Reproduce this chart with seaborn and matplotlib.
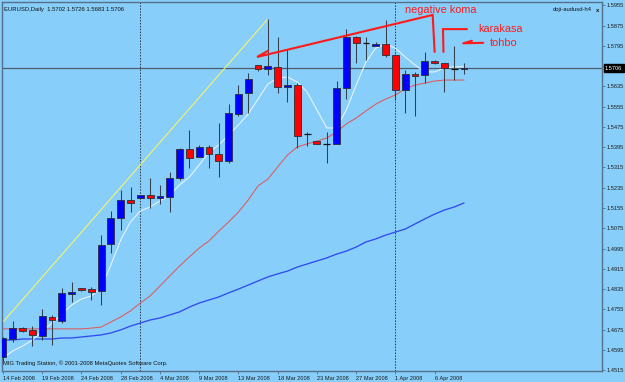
import matplotlib
matplotlib.use("Agg")
import matplotlib.pyplot as plt
import matplotlib.transforms as mtransforms
import numpy as np
import pandas as pd
import seaborn as sns

# ---------------- data ----------------
opens = [1.4567, 1.4638, 1.4681, 1.4673, 1.4649, 1.4725, 1.4709, 1.4815, 1.4839, 1.4835,
         1.4827, 1.5013, 1.5116, 1.5187, 1.5194, 1.5206, 1.5194, 1.5198, 1.5273, 1.5388,
         1.5356, 1.5396, 1.5368, 1.5341, 1.5526, 1.5609, 1.5719, 1.5704, 1.5712, 1.5633,
         1.5640, 1.5447, 1.5419, 1.5408, 1.5408, 1.5629, 1.5830, 1.5806, 1.5794, 1.5802,
         1.5759, 1.5621, 1.5684, 1.5680, 1.5735, 1.5727, 1.5704, 1.5702]
highs = [1.4645, 1.4709, 1.4684, 1.4689, 1.4756, 1.4733, 1.4839, 1.4863, 1.4841, 1.4843,
         1.5048, 1.5143, 1.5226, 1.5238, 1.5208, 1.5273, 1.5246, 1.5297, 1.5392, 1.5463,
         1.5404, 1.5404, 1.5490, 1.5565, 1.5640, 1.5688, 1.5721, 1.5900, 1.5830, 1.5783,
         1.5648, 1.5455, 1.5421, 1.5455, 1.5656, 1.5861, 1.5832, 1.5830, 1.5810, 1.5897,
         1.5761, 1.5700, 1.5692, 1.5771, 1.5739, 1.5729, 1.5794, 1.5726]
lows = [1.4551, 1.4626, 1.4666, 1.4610, 1.4634, 1.4614, 1.4701, 1.4784, 1.4829, 1.4792,
        1.4772, 1.4977, 1.5068, 1.5139, 1.5192, 1.5155, 1.5171, 1.5139, 1.5265, 1.5313,
        1.5356, 1.5313, 1.5277, 1.5333, 1.5518, 1.5530, 1.5696, 1.5680, 1.5609, 1.5573,
        1.5392, 1.5400, 1.5406, 1.5333, 1.5408, 1.5585, 1.5727, 1.5739, 1.5794, 1.5751,
        1.5581, 1.5530, 1.5518, 1.5648, 1.5723, 1.5613, 1.5660, 1.5683]
closes = [1.4642, 1.4681, 1.4669, 1.4653, 1.4729, 1.4713, 1.4819, 1.4823, 1.4831, 1.4823,
          1.5009, 1.5116, 1.5187, 1.5175, 1.5206, 1.5194, 1.5202, 1.5273, 1.5388, 1.5352,
          1.5396, 1.5368, 1.5341, 1.5530, 1.5605, 1.5664, 1.5704, 1.5715, 1.5633, 1.5640,
          1.5439, 1.5447, 1.5408, 1.5408, 1.5629, 1.5830, 1.5806, 1.5806, 1.5802, 1.5759,
          1.5621, 1.5684, 1.5676, 1.5735, 1.5727, 1.5708, 1.5704, 1.5706]

ma_fast = [1.4563, 1.4591, 1.4610, 1.4634, 1.4670, 1.4701, 1.4737, 1.4772, 1.4796, 1.4808,
           1.4839, 1.4930, 1.5029, 1.5100, 1.5143, 1.5159, 1.5183, 1.5206, 1.5246, 1.5277,
           1.5325, 1.5376, 1.5404, 1.5443, 1.5483, 1.5526, 1.5585, 1.5644, 1.5668, 1.5672,
           1.5652, 1.5613, 1.5542, 1.5471, 1.5471, 1.5542, 1.5640, 1.5731, 1.5786, 1.5802,
           1.5786, 1.5751, 1.5719, 1.5692, 1.5692, 1.5708, 1.5712, 1.5712]
ma_mid = [1.4678, 1.4678, 1.4678, 1.4678, 1.4678, 1.4678, 1.4678, 1.4678, 1.4678, 1.4681,
          1.4685, 1.4705, 1.4725, 1.4749, 1.4780, 1.4808, 1.4847, 1.4887, 1.4926, 1.4962,
          1.4997, 1.5025, 1.5064, 1.5100, 1.5139, 1.5187, 1.5242, 1.5269, 1.5317, 1.5364,
          1.5396, 1.5408, 1.5419, 1.5431, 1.5455, 1.5487, 1.5510, 1.5538, 1.5565, 1.5585,
          1.5601, 1.5625, 1.5640, 1.5648, 1.5656, 1.5660, 1.5660, 1.5660]
ma_slow = [1.4634, 1.4634, 1.4638, 1.4638, 1.4638, 1.4638, 1.4642, 1.4642, 1.4646, 1.4650,
           1.4654, 1.4662, 1.4674, 1.4689, 1.4701, 1.4713, 1.4721, 1.4733, 1.4745, 1.4764,
           1.4780, 1.4792, 1.4804, 1.4820, 1.4835, 1.4851, 1.4867, 1.4883, 1.4895, 1.4906,
           1.4922, 1.4934, 1.4946, 1.4958, 1.4973, 1.4985, 1.5001, 1.5021, 1.5033, 1.5048,
           1.5060, 1.5072, 1.5092, 1.5112, 1.5131, 1.5147, 1.5159, 1.5175]

date_ticks = [0, 4, 8, 12, 16, 20, 24, 28, 32, 36, 40, 44]
date_labels = ["14 Feb 2008", "19 Feb 2008", "24 Feb 2008", "28 Feb 2008", "4 Mar 2008",
               "9 Mar 2008", "13 Mar 2008", "18 Mar 2008", "23 Mar 2008", "27 Mar 2008",
               "1 Apr 2008", "6 Apr 2008"]
price_ticks = [1.5955, 1.5875, 1.5795, 1.5715, 1.5635, 1.5555, 1.5475, 1.5395, 1.5315,
               1.5235, 1.5155, 1.5075, 1.4995, 1.4915, 1.4835, 1.4755, 1.4675, 1.4595, 1.4515]
# the 1.5715 label is hidden behind the current-price box in the reference
price_labels = ["" if v == 1.5715 else "%.4f" % v for v in price_ticks]
separators = [14, 40]
last_price = 1.5706

trend_x = [0, 26.9]
trend_y = [1.4705, 1.5897]
koma_x = [27.0, 25.9, 43.8, 44.0]
koma_y = [1.5775, 1.5751, 1.5917, 1.5771]
kara_x = [47.3, 44.85, 44.9]
kara_y = [1.5861, 1.5861, 1.5771]
tohbo_x = [48.96, 46.92, 47.8]
tohbo_y = [1.5807, 1.5805, 1.5815]

# ---------------- style ----------------
sns.set_style("ticks")
plt.rcParams["font.family"] = ["Liberation Sans", "DejaVu Sans"]
BG = "#87CEFA"
FRAME = "#56708a"

fig = plt.figure(figsize=(6.25, 3.82), dpi=100, facecolor=BG)
W, H = 625, 382
ax = fig.add_axes([1.7 / W, (H - 370.7) / H, 600 / W, 369 / H])
ax.set_facecolor(BG)

idx = np.arange(len(opens))
df = pd.DataFrame({"bar": idx, "open": opens, "high": highs, "low": lows, "close": closes,
                   "fast": ma_fast, "mid": ma_mid, "slow": ma_slow})

# moving averages
sns.lineplot(data=df, x="bar", y="slow", ax=ax, color="#2f4cf0", lw=0.95, zorder=2)
sns.lineplot(data=df, x="bar", y="mid", ax=ax, color="#e0585c", lw=0.75, zorder=2)
sns.lineplot(data=df, x="bar", y="fast", ax=ax, color="#eef6ff", lw=0.75, zorder=2)

# trend line
ax.plot(trend_x, trend_y, color="#f4f46a", lw=0.8, zorder=2)

# current price line and separators
ax.axhline(last_price, color="#4c5c6c", lw=0.9, zorder=1.5)
for s in separators:
    ax.axvline(s - 0.05, color="#2a3440", lw=0.7, ls=(0, (1.5, 1.5)), zorder=1.5)

# candles
wick_c = "#34404c"
edge_c = "#2a2f3a"
ax.vlines(df["bar"], df["low"], df["high"], color=wick_c, lw=0.75, zorder=3)
body_lo = np.minimum(df["open"], df["close"])
body_h = np.abs(df["close"] - df["open"])
bull = df["close"] > df["open"]
bear = df["close"] < df["open"]
doji = df["close"] == df["open"]
ax.bar(df["bar"][bull], body_h[bull], bottom=body_lo[bull], width=0.7,
       color="#0000ff", edgecolor=edge_c, linewidth=0.6, zorder=4)
ax.bar(df["bar"][bear], body_h[bear], bottom=body_lo[bear], width=0.7,
       color="#ff0000", edgecolor=edge_c, linewidth=0.6, zorder=4)
ax.hlines(df["open"][doji], df["bar"][doji] - 0.35, df["bar"][doji] + 0.35,
          color="#111111", lw=0.9, zorder=4)

# annotations
red = "#ff1a1a"
ax.plot(koma_x, koma_y, color=red, lw=1.5, zorder=5, solid_joinstyle="miter")
ax.plot(kara_x, kara_y, color=red, lw=1.5, zorder=5, solid_joinstyle="miter")
ax.plot(tohbo_x, tohbo_y, color=red, lw=1.5, zorder=5)
ax.text(44.65, 1.5936, "negative koma", color=red, fontsize=7.8, ha="center", va="center", zorder=6)
ax.text(48.4, 1.5863, "karakasa", color=red, fontsize=7.8, ha="left", va="center", zorder=6)
ax.text(49.6, 1.5806, "tohbo", color=red, fontsize=7.8, ha="left", va="center", zorder=6)

# axes limits
ax.set_xlim(-0.13, 61.03)
ax.set_ylim(1.45129, 1.59692)
ax.set_xlabel("")
ax.set_ylabel("")

# ticks
ax.set_xticks(date_ticks)
ax.set_xticklabels(date_labels, ha="left", fontsize=4.1, color="#1a1a1a")
ax.tick_params(axis="x", direction="out", length=2.5, width=0.6, pad=1.0, color=FRAME)
ax.yaxis.tick_right()
ax.set_yticks(price_ticks)
ax.set_yticklabels(price_labels, fontsize=4.1, color="#1a1a1a")
ax.tick_params(axis="y", direction="out", length=2.5, width=0.6, pad=1.2, color=FRAME)

for sp in ax.spines.values():
    sp.set_visible(True)
    sp.set_color(FRAME)
    sp.set_linewidth(1.0)

# price box
trans = mtransforms.blended_transform_factory(ax.transAxes, ax.transData)
ax.text(1.0055, last_price, "%.4f" % last_price, transform=trans, fontsize=4.1, color="white",
        ha="left", va="center", zorder=10, clip_on=False,
        bbox=dict(boxstyle="square,pad=0.25", facecolor="black", edgecolor="black"))

# header / footer text
ax.text(0.004, 0.985, "EURUSD,Daily  1.5702 1.5726 1.5683 1.5706", transform=ax.transAxes,
        fontsize=4.2, color="#111111", ha="left", va="top")
ax.text(0.918, 0.985, "doji-audusd-h4", transform=ax.transAxes,
        fontsize=4.2, color="#111111", ha="left", va="top")
ax.text(0.99, 0.983, "x", transform=ax.transAxes,
        fontsize=4.2, color="#111111", ha="left", va="top", fontweight="bold")
ax.text(0.002, 0.012, "MIG Trading Station, \u00a9 2001-2008 MetaQuotes Software Corp.",
        transform=ax.transAxes, fontsize=4.2, color="#111111", ha="left", va="bottom")

fig.savefig("out.png", dpi=100, facecolor=BG)
